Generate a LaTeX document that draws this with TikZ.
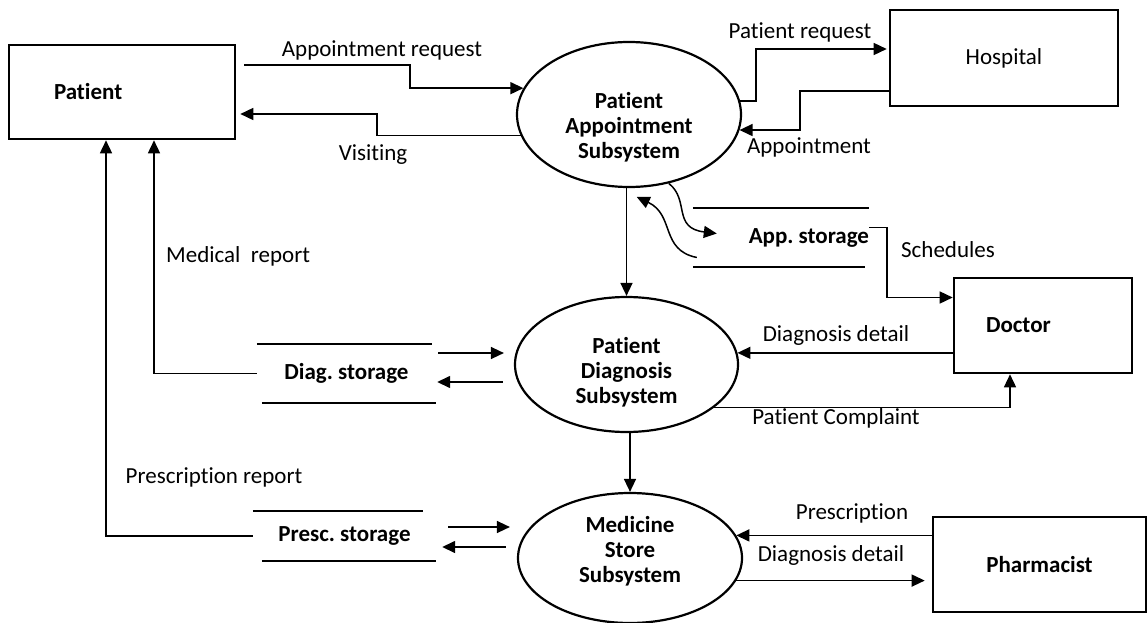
\documentclass[tikz,border=0pt]{standalone}
\usepackage{fontspec}
\setmainfont{Carlito}[Ligatures=NoCommon]
\usetikzlibrary{shapes.geometric,arrows.meta,positioning}
\frenchspacing
\begin{document}
\begin{tikzpicture}[x=1pt,y=-1pt,
    every node/.style={font=\fontsize{23}{25}\selectfont, inner sep=0pt},
    bold/.style={font=\fontsize{23}{25}\selectfont\bfseries},
    ext/.style={draw, line width=2.6pt, align=center},
    proc/.style={draw, ellipse, line width=2.2pt},
    proctext/.style={bold, align=center},
    store/.style={align=center, bold},
    sline/.style={line width=1.5pt},
    flow/.style={line width=1.5pt, -{Triangle[length=13pt,width=12pt]}}]

\useasboundingbox (0,0) rectangle (1148,623);

\node[ext, bold, minimum width=226pt, minimum height=94pt, text width=136pt, inner xsep=45pt, align=left] (patient) at (122,92) {Patient};
\node[ext, minimum width=228pt, minimum height=96pt] (hosp) at (1004,58) {Hospital};
\node[ext, bold, minimum width=178pt, minimum height=95pt, text width=114pt, inner xsep=32pt, align=left] (doc) at (1043,325.5) {Doctor};
\node[ext, bold, minimum width=213pt, minimum height=95pt] (pharm) at (1039.5,564.5) {Pharmacist};

\node[proc, minimum width=224pt, minimum height=145pt] (pa) at (629,114.5) {};
\node[proctext] (patext) at (629,127) {Patient\\Appointment\\Subsystem};
\node[proc, minimum width=223pt, minimum height=135pt] (pd) at (626.5,364.5) {};
\node[proctext] (pdtext) at (626.5,372) {Patient\\Diagnosis\\Subsystem};
\node[proc, minimum width=224pt, minimum height=130pt] (pm) at (630,558) {};
\node[proctext] (pmtext) at (630,551) {Medicine\\Store\\Subsystem};

\node[store, minimum width=176pt, minimum height=59pt, text width=176pt, align=flush right] (as) at (781,237.5) {App. storage};
\draw[sline] (as.north west) -- (as.north east) (as.south west) -- ([xshift=-4]as.south east);
\node[store, minimum width=179pt, minimum height=59pt] (ds) at (346.5,373.5) {Diag. storage};
\draw[sline] (ds.north west) -- ([xshift=-4]ds.north east) ([xshift=5]ds.south west) -- (ds.south east);
\node[store, minimum width=183pt, minimum height=50pt] (ps) at (344.5,536) {Presc. storage};
\draw[sline] (ps.north west) -- ([xshift=-13]ps.north east) ([xshift=9]ps.south west) -- (ps.south east);

\draw[flow] ([xshift=8]patient.east |- 0,65) -- (410,65) |- (pa.166);
\draw[flow, shorten >=4pt] (pa.191) -| (377,114) -- (patient.east |- 0,114);
\draw[flow, shorten >=2pt] (pa.7) -- ++(16,0) |- ([yshift=9]hosp.west);
\draw[flow] ([yshift=-33]hosp.west) -- (800,91) |- (pa.352);

\draw[flow] (pa.south -| pd.north) -- (pd.north);
\draw[flow] (pd.south -| pm.north) -- (pm.north);

\draw[flow] (pa.300) .. controls (690,200) and (672,228) .. ([xshift=24,yshift=4]as.west);
\draw[flow] ([xshift=4,yshift=-20]as.west) .. controls (660,250) and (675,215) .. ([yshift=-9]pa.-84);
\draw[flow] ([yshift=10]as.east) -- ++(18,0) |- ([yshift=28]doc.west);

\draw[flow] (pd.6 -| doc.west) -- (pd.6);
\draw[flow] (pd.-26) -| ([xshift=-33]doc.south);

\draw[flow, shorten <=2pt, shorten >=10pt] (ds.east |- 0,353) -- (pd.west |- 0,353);
\draw[flow, shorten <=11pt, shorten >=1pt] (pd.west |- 0,382) -- (ds.east |- 0,382);
\draw[flow] (ds.west) -| ([xshift=32]patient.south);

\draw[flow, shorten <=12pt, shorten >=7pt] (ps.east |- 0,527) -- (pm.west |- 0,527);
\draw[flow, shorten <=11pt, shorten >=6pt] (pm.west |- 0,547) -- (ps.east |- 0,547);
\draw[flow] (ps.west) -| ([xshift=-16]patient.south);

\draw[flow] (pm.12 -| pharm.west) -- (pm.12);
\draw[flow, shorten >=7pt] (pm.-12) -- (pm.-12 -| pharm.west);

\node (lapreq) at (382,50) {Appointment request};
\node (lvisit) at (373,155) {Visiting};
\node (lpreq) at (800,32) {Patient request};
\node (lappt) at (809,147) {Appointment};
\node (lsched) at (948,250) {Schedules};
\node (lddet) at (836,335) {Diagnosis detail};
\node (lcompl) at (836,418) {Patient Complaint};
\node[anchor=west] (lmed) at (166,256) {Medical\ \ report};
\node (lpresr) at (214,477) {Prescription report};
\node (lpresc) at (852,513) {Prescription};
\node (lddet2) at (831,555) {Diagnosis detail};
\end{tikzpicture}
\end{document}
